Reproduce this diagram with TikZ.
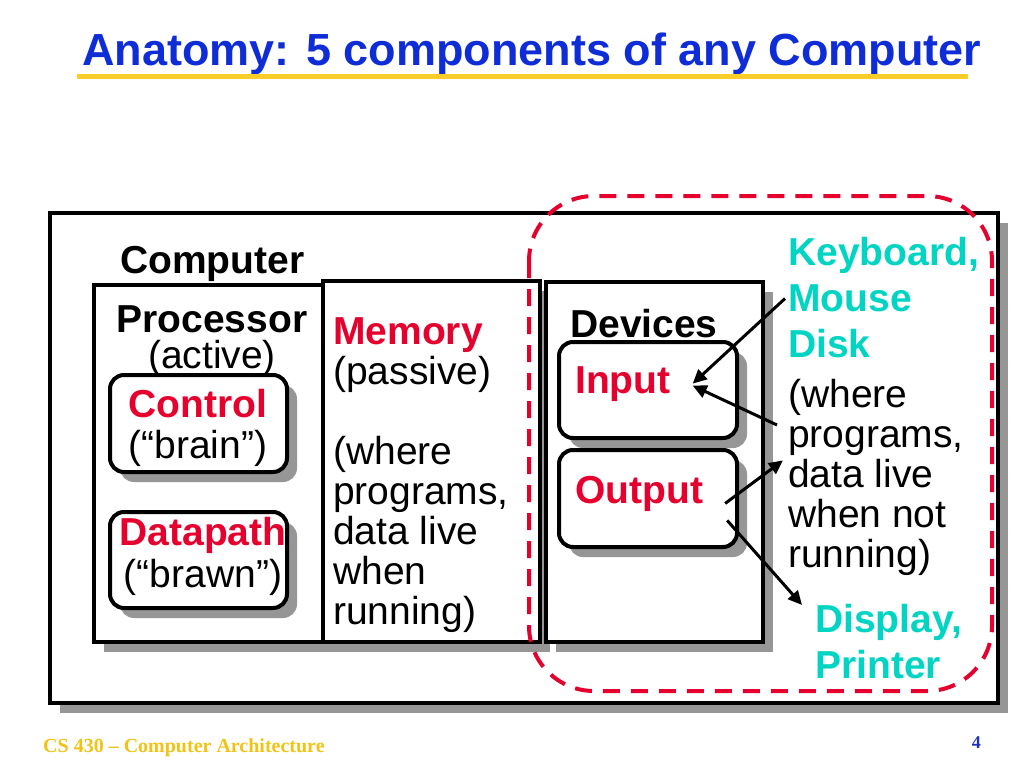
\documentclass[tikz,border=0pt]{standalone}
\usepackage{fontspec}
\setmainfont{Liberation Sans}
\newfontfamily\footfont{Liberation Serif}
\usetikzlibrary{arrows.meta,shadows,calc}
\definecolor{titleblue}{RGB}{15,45,215}
\definecolor{rulegold}{RGB}{250,205,40}
\definecolor{footgold}{RGB}{240,195,20}
\definecolor{pagenum}{RGB}{30,50,180}
\definecolor{hired}{RGB}{230,0,45}
\definecolor{devcyan}{RGB}{0,212,195}
\definecolor{shadowgray}{RGB}{150,150,150}
\tikzset{
  box/.style={draw, line width=4pt, fill=white,
    drop shadow={shadow xshift=10pt, shadow yshift=-10pt, fill=shadowgray, opacity=1}},
  part/.style={box, rounded corners=14pt},
  txt/.style={inner sep=0pt, font=\fontsize{39}{40}\selectfont},
  arr/.style={line width=3pt, -{Triangle[length=14pt,width=13pt]}}
}
\begin{document}
\begin{tikzpicture}[x=1pt, y=-1pt]
  \useasboundingbox (0,0) rectangle (1024,768);
  % title
  \node[inner sep=0pt, anchor=base west, font=\fontsize{45}{45}\selectfont\bfseries, text=titleblue]
    (title) at (82,65) {Anatomy: 5 components of any Computer};
  \draw[rulegold, line width=5pt] (77,76) -- (968,76);
  % boxes
  \draw[box] (50,213) rectangle (998,703);
  \draw[box] (94,285) rectangle (323,642);
  \draw[box] (323,281) rectangle (540,642);
  \draw[box] (546,282) rectangle (763,642);
  \draw[part] (110,375) rectangle (287,472);
  \draw[part] (110,512) rectangle (287,608);
  \draw[part] (559,342) rectangle (737,438);
  \draw[part] (559,450) rectangle (737,547);
  % processor side
  \node[txt, anchor=base west, font=\fontsize{39}{40}\selectfont\bfseries] (comp) at (120,273) {Computer};
  \node[txt, anchor=north, align=center] (proc) at (212,305) {\textbf{Processor}\\[-4pt](active)};
  \node[txt, anchor=north, align=center] (ctrl) at (198,389) {\textcolor{hired}{\textbf{Control}}\\[1pt](“brain”)};
  \node[txt, anchor=north, align=center] (dpath) at (203,517) {\textcolor{hired}{\textbf{Datapath}}\\[2pt](“brawn”)};
  \node[txt, anchor=north west, align=left] (mem) at (333,317)
    {\textcolor{hired}{\textbf{Memory}}\\(passive)\\ \\(where\\programs,\\data live\\when\\running)};
  % devices side
  \node[txt, anchor=base west, font=\fontsize{39}{40}\selectfont\bfseries] (dev) at (570,337) {Devices};
  \node[txt, anchor=base west, font=\fontsize{39}{40}\selectfont\bfseries, text=hired] (intxt) at (575,393) {Input};
  \node[txt, anchor=base west, font=\fontsize{39}{40}\selectfont\bfseries, text=hired] (outtxt) at (575,503) {Output};
  \node[txt, anchor=north west, align=left, font=\fontsize{39}{46}\selectfont\bfseries, text=devcyan]
    (kbd) at (788,237) {Keyboard,\\Mouse\\Disk};
  \node[txt, anchor=north west, align=left] (where) at (788,379)
    {(where\\programs,\\data live\\when not\\running)};
  \node[txt, anchor=north west, align=left, font=\fontsize{39}{46}\selectfont\bfseries, text=devcyan]
    (disp) at (815,604) {Display,\\Printer};
  % io region
  \draw[hired, line width=4pt, dash pattern=on 17pt off 11pt, rounded corners=65pt]
    (529,196) rectangle (992,691);
  % arrows
  \draw[arr] ($(kbd.west)+(-3,1)$) -- ($(intxt.east)+(22,0)$);
  \draw[arr] ($(where.north west)+(-11,46)$) -- ($(intxt.east)+(22,2)$);
  \draw[arr] ($(outtxt.east)+(22,10)$) -- ($(where.west)+(-5,-17)$);
  \draw[arr] ($(outtxt.east)+(24,27)$) -- ($(disp.north west)+(-13,1)$);
  % footer
  \node[inner sep=0pt, anchor=base west, font=\footfont\fontsize{20}{20}\selectfont\bfseries, text=footgold]
    (foot) at (43,752) {CS 430 – Computer Architecture};
  \node[inner sep=0pt, anchor=base east, font=\footfont\fontsize{18}{18}\selectfont\bfseries, text=pagenum]
    (page) at (981,748) {4};
\end{tikzpicture}
\end{document}
